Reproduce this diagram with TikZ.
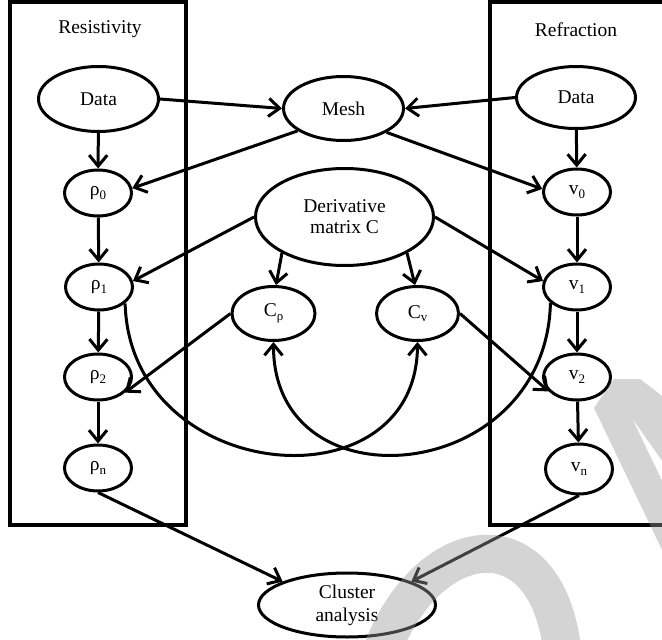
\documentclass[tikz,border=0pt]{standalone}
\usepackage{fontspec}
\setmainfont{Liberation Serif}
\usetikzlibrary{shapes.geometric,arrows.meta}
\newcommand\sbs[1]{\raisebox{-0.4ex}{\fontsize{13}{13}\selectfont #1}}
\begin{document}
\begin{tikzpicture}[x=1pt,y=-1pt,
  ell/.style={draw, ellipse, line width=3pt, inner sep=0pt, align=center,
    font=\fontsize{19.5}{22}\selectfont},
  small/.style={ell, minimum width=67pt, minimum height=46pt},
  arr/.style={line width=3pt, -{Straight Barb[length=11pt,width=18pt]}},
  box/.style={draw, line width=4pt},
  lbl/.style={font=\fontsize{19.5}{22}\selectfont},
  wm/.style={fill=black!40, opacity=0.42}]
\useasboundingbox (0,0) rectangle (662,640);
\clip (0,0) rectangle (662,640);
\fill[white] (0,0) rectangle (662,640);
% boxes
\draw[box] (9.5,2) rectangle (185.5,525);
\draw[box] (489.5,2) rectangle (690,525);
\node[lbl] (tres) at (100,29) {Resistivity};
\node[lbl] (tref) at (576,30) {Refraction};
% nodes
\node[ell, minimum width=120pt, minimum height=65pt] (dL) at (98.5,99) {Data};
\node[ell, minimum width=119pt, minimum height=62pt] (dR) at (576,97.5) {Data};
\node[ell, minimum width=120pt, minimum height=64pt] (mesh) at (343.5,108.5) {Mesh};
\node[ell, minimum width=178pt, minimum height=97pt] (der) at (344.5,217) {Derivative\\[-1pt]matrix C};
\node[small] (r0) at (98,193) {ρ\sbs{0}};
\node[small] (r1) at (99,287) {ρ\sbs{1}};
\node[small] (r2) at (98,377) {ρ\sbs{2}};
\node[small] (rn) at (98,468) {ρ\sbs{n}};
\node[small] (v0) at (577,192) {v\sbs{0}};
\node[small] (v1) at (577,287) {v\sbs{1}};
\node[small] (v2) at (577,377) {v\sbs{2}};
\node[small, minimum height=50pt] (vn) at (579,469) {v\sbs{n}};
\node[ell, minimum width=83pt, minimum height=54pt] (crho) at (273.5,313.5) {C\sbs{ρ}};
\node[ell, minimum width=82pt, minimum height=54pt] (cv) at (417.5,313.5) {C\sbs{v}};
\node[ell, minimum width=177pt, minimum height=64pt] (cl) at (347,605) {Cluster\\[1pt]analysis};
% connectors
\draw[arr] (dL.east) -- (mesh.west);
\draw[arr] (dR.west) -- (mesh.east);
\draw[arr] (mesh.206) -- (r0.8);
\draw[arr] (mesh.-29) -- (v0.175);
\draw[arr] (dL) -- (r0);
\draw[arr] (r0) -- (r1);
\draw[arr] (r1) -- (r2);
\draw[arr] (r2) -- (rn);
\draw[arr] (dR) -- (v0);
\draw[arr] (v0) -- (v1);
\draw[arr] (v1) -- (v2);
\draw[arr] (v2) -- (vn);
\draw[arr] (der.west) -- (r1.10);
\draw[arr] (der.east) -- (v1.170);
\draw[arr] (der.210) -- (crho.85);
\draw[arr] (der.-30) -- (cv.95);
\draw[arr] (crho.west) -- (r2.-30);
\draw[arr] (cv.east) -- (v2.207);
\draw[arr] (r1.-32) .. controls (130,485) and (417,510) .. (cv.south);
\draw[arr] (v1.211) .. controls (546,485) and (273,510) .. (crho.south);
\draw[arr] (rn.south) -- (cl.160);
\draw[arr] (vn.south) -- (cl.20);
% watermark
\draw[black!40, opacity=0.42, line width=38pt] (383,648) .. controls (430,530) and (545,515) .. (562,648);
\fill[wm] (594,408) -- (614,379) -- (640,379) -- (700,425) -- (700,515) -- (632,418) -- (700,560) -- (700,629) -- cycle;
\end{tikzpicture}
\end{document}
